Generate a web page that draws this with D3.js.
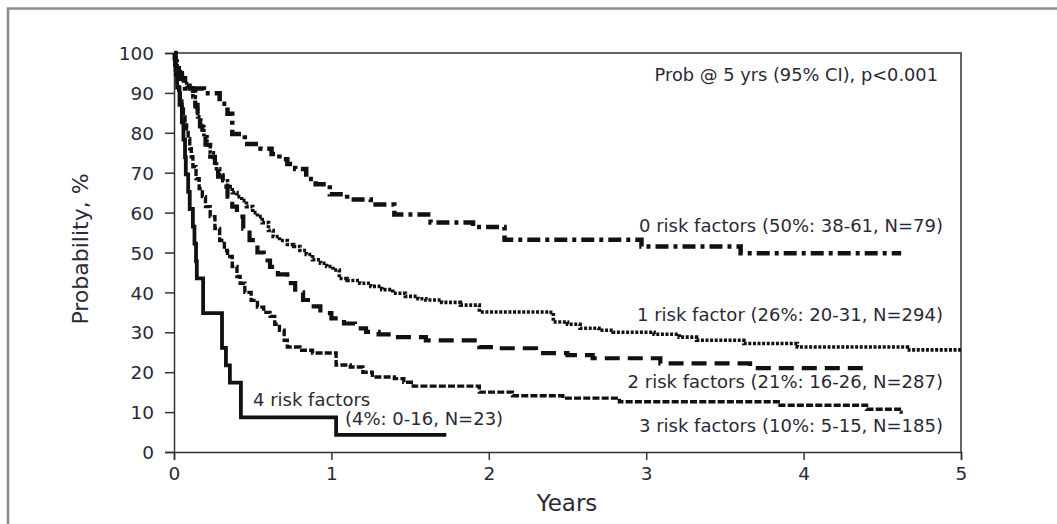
<!DOCTYPE html>
<html><head><meta charset="utf-8">
<script src="https://cdn.jsdelivr.net/npm/d3@7"></script>
<style>body{margin:0;background:#fff}svg{display:block}text{font-family:"DejaVu Sans",Verdana,sans-serif;fill:#2a2a36}</style>
</head><body>
<script>
const xTicks=[0,1,2,3,4,5];
const yTicks=[0,10,20,30,40,50,60,70,80,90,100];
const t0=[0,0.005,0.01,0.02,0.03,0.05,0.07,0.19,0.29,0.34,0.37,0.45,0.55,0.62,0.67,0.72,0.77,0.84,0.9,0.99,1.1,1.25,1.4,1.63,1.9,2.1,2.97,3.6,4.62];
const p0=[100,98.7,97.5,96.2,94.9,93.7,91.1,89.9,87.3,84.8,79.7,77.2,76,74.7,73.4,72.2,70.9,68.4,67.1,64.6,63.3,62,59.5,57.5,56.4,53.2,51.5,49.8,49.8];
const t1=[0,0.01,0.02,0.04,0.06,0.08,0.1,0.12,0.135,0.15,0.17,0.19,0.21,0.23,0.25,0.27,0.29,0.31,0.34,0.37,0.4,0.43,0.46,0.5,0.53,0.56,0.6,0.63,0.67,0.72,0.76,0.8,0.84,0.88,0.93,0.97,1.01,1.05,1.1,1.18,1.25,1.32,1.39,1.47,1.55,1.6,1.7,1.82,1.94,2.38,2.41,2.5,2.58,2.7,2.79,3.05,3.21,3.32,3.62,3.96,4.66,5.0];
const p1=[100,98,96,94.5,93,91.5,90.5,89,86.5,84,81.5,79,77,75,73,71,69.5,68,66.5,65,64,63,61.5,60,59,57.5,55.5,54,53,52,51.5,50.5,49.5,48.2,47.3,46.5,45.6,43.5,43,42.3,41.5,40.7,39.8,39,38.4,38.1,37.5,36.8,35.1,35,32.6,32,31,30.5,30,29.5,28.8,28,27.2,26.3,25.6,25.6];
const t2=[0,0.01,0.02,0.04,0.06,0.08,0.1,0.12,0.135,0.15,0.165,0.18,0.2,0.23,0.26,0.28,0.31,0.34,0.37,0.4,0.44,0.48,0.53,0.57,0.61,0.66,0.72,0.77,0.82,0.87,0.93,1.0,1.08,1.15,1.22,1.3,1.39,1.6,1.94,2.05,2.3,2.5,2.66,3.09,3.66,4.4];
const p2=[100,97,95,93.5,92.5,91.8,91.2,90.5,87,84,81.6,79,77,74,71.5,69,66.5,64,61.5,59,56,53.1,50,48,46.4,44.5,42.3,40,38.1,36.5,34.8,33.5,32.2,31,30.1,29.5,28.8,28,26.3,26,24.8,24.3,23.5,22.2,21,21];
const t3=[0,0.005,0.01,0.02,0.03,0.04,0.05,0.06,0.07,0.08,0.09,0.1,0.11,0.12,0.14,0.16,0.18,0.2,0.23,0.26,0.29,0.32,0.34,0.37,0.4,0.42,0.45,0.49,0.53,0.57,0.61,0.64,0.67,0.7,0.72,0.8,0.88,1.03,1.12,1.2,1.26,1.4,1.46,1.52,1.94,2.15,2.47,2.83,3.85,4.4,4.62,4.63];
const p3=[100,97,94,92,90,88,86,84,82.5,81,78.5,76,74,71.5,68.5,66,64,61.5,59,56,53,50.5,49,46.5,44,42.3,40,38,36.3,35,34,32,30.5,28,26.3,25.5,24.8,21.8,21.3,20,18.8,18.4,17.5,16.5,15,14.1,13.5,12.6,11.7,10.7,10,10];
const t4=[0,0.01,0.02,0.035,0.05,0.06,0.07,0.075,0.09,0.1,0.12,0.13,0.14,0.145,0.185,0.305,0.33,0.355,0.425,1.03,1.73];
const p4=[100,95.7,91.3,87,82.6,78.3,73.9,69.6,65.2,60.9,56.5,52.2,47.8,43.5,34.8,26.1,21.7,17.4,8.7,4.3,4.3];
const seriesLabels=["0 risk factors (50%: 38-61, N=79)","1 risk factor (26%: 20-31, N=294)","2 risk factors (21%: 16-26, N=287)","3 risk factors (10%: 5-15, N=185)"];
const label4a="4 risk factors", label4b="(4%: 0-16, N=23)";
const noteText="Prob @ 5 yrs (95% CI), p<0.001";

const W=1057,H=524;
const svg=d3.select("body").append("svg").attr("width",W).attr("height",H);
svg.append("path").attr("d",`M8,${H}V8.5H${W}`).attr("fill","none").attr("stroke","#8c8c8c").attr("stroke-width",2.5);

const x=d3.scaleLinear().domain([0,5]).range([174,961]);
const y=d3.scaleLinear().domain([0,100]).range([452,53]);

const axCol="#333";
svg.append("path").attr("d",`M${x(0)},${y(100)}H${x(5)}V${y(0)}`).attr("fill","none").attr("stroke",axCol).attr("stroke-width",1.5);

const xa=svg.append("g").attr("transform",`translate(0,${y(0)})`)
 .call(d3.axisBottom(x).tickValues(xTicks).tickFormat(d3.format("d")).tickSize(8).tickPadding(6));
const ya=svg.append("g").attr("transform",`translate(${x(0)},0)`)
 .call(d3.axisLeft(y).tickValues(yTicks).tickFormat(d3.format("d")).tickSize(9).tickPadding(11));
[xa,ya].forEach(a=>{
 a.select(".domain").attr("stroke",axCol).attr("stroke-width",1.5);
 a.selectAll(".tick line").attr("stroke",axCol).attr("stroke-width",1.5);
 a.selectAll(".tick text").attr("font-size",18.5).attr("font-family","DejaVu Sans").attr("fill","#2a2a36");
});
ya.selectAll(".tick text").attr("dy","0.36em");
xa.selectAll(".tick text").attr("dy","0.75em");

svg.append("text").attr("x",567).attr("y",511).attr("text-anchor","middle").attr("font-size",23).text("Years");
svg.append("text").attr("transform","translate(88,249) rotate(-90)").attr("text-anchor","middle").attr("font-size",22).text("Probability, %");

const line=d3.line().x(d=>x(d[0])).y(d=>y(d[1])).curve(d3.curveStepAfter);
const series=[
 {t:t0,p:p0,w:4.5,dash:"13,5,4,5"},
 {t:t1,p:p1,w:3.6,dash:"3,1.6"},
 {t:t2,p:p2,w:4.2,dash:"15,8"},
 {t:t3,p:p3,w:3.4,dash:"7,2.2"},
 {t:t4,p:p4,w:3.8,dash:null}
];
series.forEach(s=>{
 const pts=s.t.map((t,i)=>[t,s.p[i]]);
 const path=svg.append("path").datum(pts).attr("d",line).attr("fill","none")
  .attr("stroke","#111").attr("stroke-width",s.w).attr("stroke-linejoin","miter");
 if(s.dash) path.attr("stroke-dasharray",s.dash);
});

const fs=18;
svg.append("text").attr("x",938).attr("y",81).attr("text-anchor","end").attr("font-size",17.8).text(noteText);
const ly=[232,321,388,432];
seriesLabels.forEach((l,i)=>svg.append("text").attr("x",943).attr("y",ly[i]).attr("text-anchor","end").attr("font-size",fs).text(l));
svg.append("text").attr("x",253).attr("y",406).attr("font-size",fs).text(label4a);
svg.append("text").attr("x",345).attr("y",425).attr("font-size",fs).text(label4b);
</script>
</body></html>
